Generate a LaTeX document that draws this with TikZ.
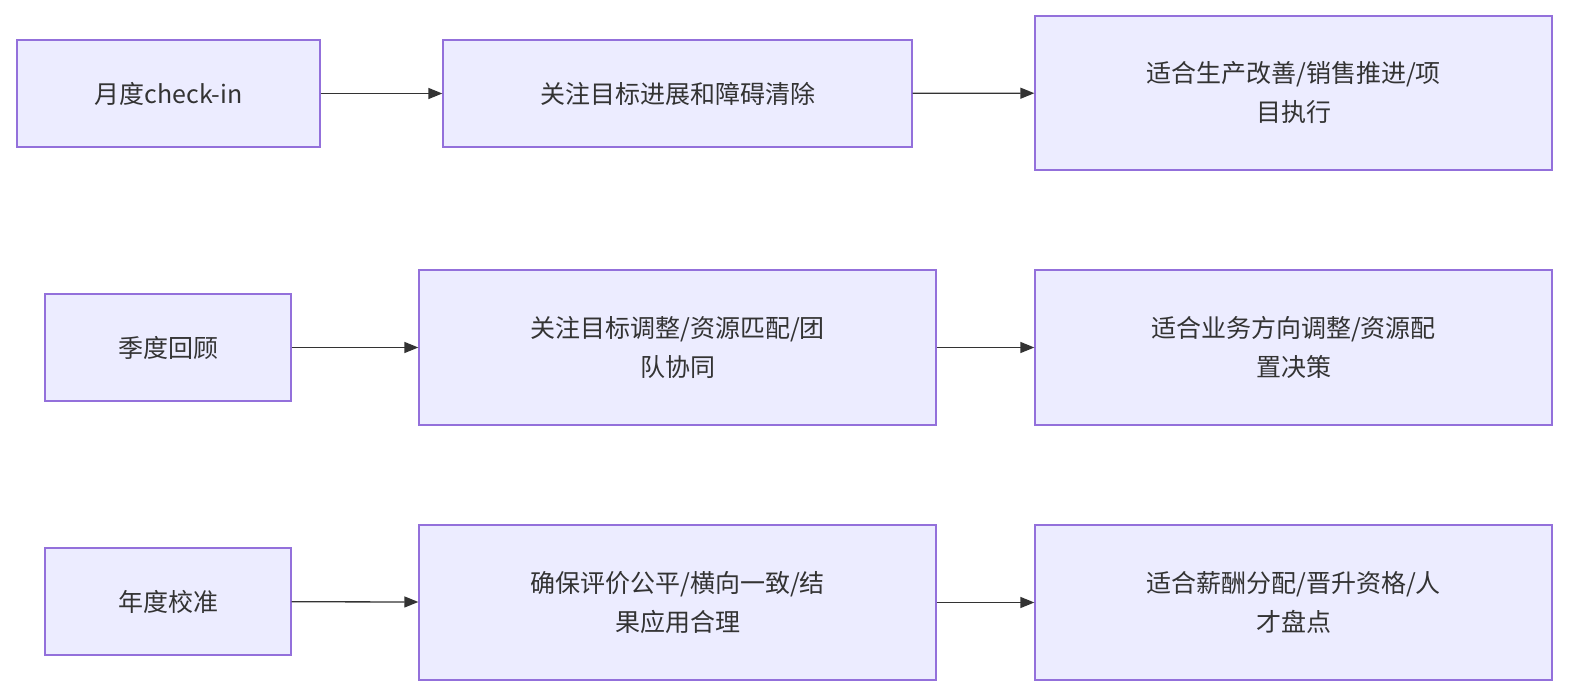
\documentclass[tikz,border=0pt]{standalone}
\usepackage{fontspec}
\setmainfont{Noto Sans CJK SC}
\usetikzlibrary{arrows.meta}
\definecolor{boxfill}{HTML}{ECECFF}
\definecolor{boxline}{HTML}{9370DB}
\definecolor{txt}{HTML}{333333}
\tikzset{
  box/.style={draw=boxline,fill=boxfill,line width=1.3pt,inner sep=0pt,align=center,text=txt,font=\fontsize{25}{39}\selectfont},
  conn/.style={draw=txt,line width=1.3pt,-{Triangle[length=14pt,width=11pt]}}
}
\newcommand{\bx}[6]{\node[box,minimum width=#4-#2,minimum height=#5-#3] (#1) at ({(#2+#4)/2},{-(#3+#5)/2}) {#6};}
\begin{document}
\begin{tikzpicture}[x=1pt,y=1pt]
\useasboundingbox (0,0) rectangle (1577,-700);
\bx{a1}{17}{40}{320}{147}{月度check-in}
\bx{b1}{443}{40}{912}{147}{关注目标进展和障碍清除}
\bx{c1}{1035}{16}{1552}{170}{适合生产改善/销售推进/项\\目执行}
\bx{a2}{45}{294}{291}{401}{季度回顾}
\bx{b2}{419}{270}{936}{425}{关注目标调整/资源匹配/团\\队协同}
\bx{c2}{1035}{270}{1552}{425}{适合业务方向调整/资源配\\置决策}
\bx{a3}{45}{548}{291}{655}{年度校准}
\bx{b3}{419}{525}{936}{680}{确保评价公平/横向一致/结\\果应用合理}
\bx{c3}{1035}{525}{1552}{680}{适合薪酬分配/晋升资格/人\\才盘点}
\foreach \r in {1,2,3}{
  \draw[conn] (a\r) -- (b\r);
  \draw[conn] (b\r) -- (c\r);
}
\end{tikzpicture}
\end{document}
